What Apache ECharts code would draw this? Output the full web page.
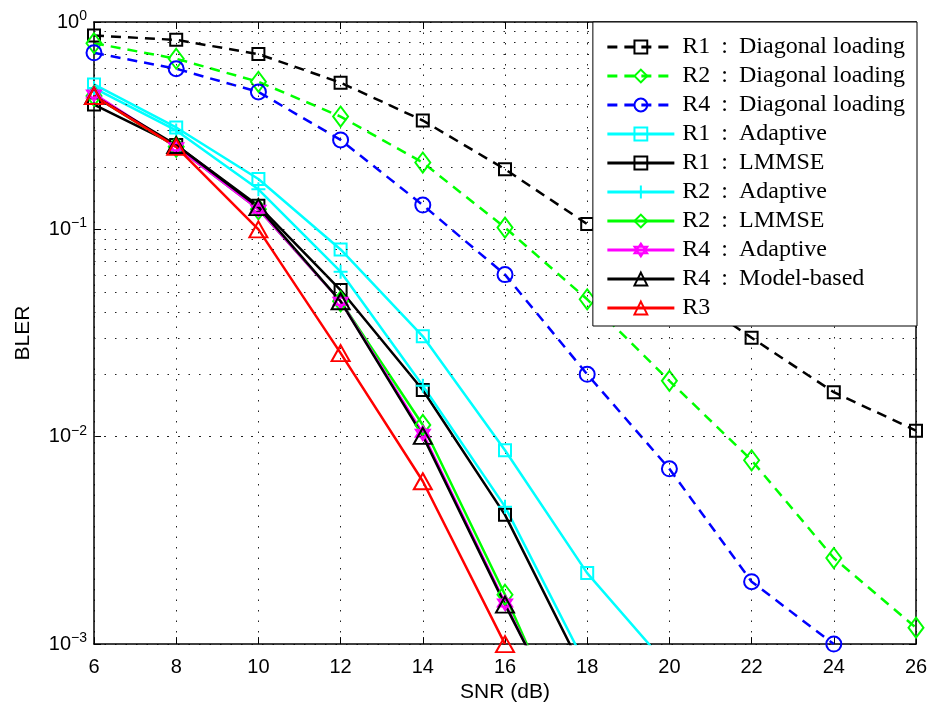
<!DOCTYPE html>
<html>
<head>
<meta charset="utf-8">
<script src="https://cdn.jsdelivr.net/npm/echarts@6/dist/echarts.min.js"></script>
<style>
  html, body { margin: 0; padding: 0; background: #fff; }
  #chart { width: 934px; height: 708px; }
</style>
</head>
<body>
<div id="chart"></div>
<script>
// SNR points (dB)
const snr = [6, 8, 10, 12, 14, 16, 18, 20, 22, 24, 26];

// BLER per receiver / estimator
const r1Diag  = [0.86, 0.82, 0.70, 0.51, 0.335, 0.195, 0.106, 0.056, 0.030, 0.0164, 0.0107];
const r2Diag  = [0.79, 0.665, 0.515, 0.35, 0.21, 0.102, 0.046, 0.0186, 0.0077, 0.0026, 0.0012];
const r4Diag  = [0.71, 0.595, 0.46, 0.27, 0.131, 0.0605, 0.020, 0.0070, 0.0020, 0.0010];
const r1Adapt = [0.50, 0.31, 0.175, 0.080, 0.0305, 0.0086, 0.0022, 0.00077];
const r1Lmmse = [0.40, 0.255, 0.13, 0.051, 0.0168, 0.0042, 0.00068];
const r2Adapt = [0.48, 0.30, 0.156, 0.0625, 0.0176, 0.0046, 0.00077];
const r2Lmmse = [0.44, 0.25, 0.125, 0.045, 0.0114, 0.00173, 0.00022];
const r4Adapt = [0.45, 0.25, 0.125, 0.045, 0.0104, 0.00158, 0.00025];
const r4Model = [0.44, 0.255, 0.128, 0.045, 0.0101, 0.00155, 0.00026];
const r3      = [0.44, 0.25, 0.10, 0.0253, 0.0061, 0.0010];

// Axis ranges and ticks
const xTicks = [6, 8, 10, 12, 14, 16, 18, 20, 22, 24, 26];
const yDecades = [0.001, 0.01, 0.1, 1];
const yMinorGrid = [
  0.002, 0.003, 0.004, 0.005, 0.006, 0.007, 0.008, 0.009,
  0.02, 0.03, 0.04, 0.05, 0.06, 0.07, 0.08, 0.09,
  0.2, 0.3, 0.4, 0.5, 0.6, 0.7, 0.8, 0.9
];

const names = [
  'R1 : Diagonal loading', 'R2 : Diagonal loading', 'R4 : Diagonal loading',
  'R1 : Adaptive', 'R1 : LMMSE', 'R2 : Adaptive', 'R2 : LMMSE',
  'R4 : Adaptive', 'R4 : Model-based', 'R3'
];

const PLUS = 'path://M0,-10L0,10M-10,0L10,0';
const HEXAGRAM = 'path://M0,-10L8.66,5L-8.66,5ZM0,10L8.66,-5L-8.66,-5Z';

function pairs(ys) { return ys.map((y, i) => [snr[i], y]); }

function curve(name, ys, color, symbol, size, dashed) {
  return {
    name: name,
    type: 'line',
    data: pairs(ys),
    symbol: symbol,
    symbolSize: size,
    showAllSymbol: true,
    clip: true,
    z: 3,
    lineStyle: { color: color, width: 2.5, type: dashed ? [10, 7] : 'solid' },
    itemStyle: { color: 'rgba(0,0,0,0)', borderColor: color, borderWidth: 2 },
    emphasis: { disabled: true }
  };
}

// legend entries: receiver, colon with wide spacing, method
function legendLabel(name) {
  const parts = name.split(' : ');
  if (parts.length < 2) return '{r|' + name + '}';
  return '{r|' + parts[0] + '}{c|:}{t|' + parts[1] + '}';
}

const dotted = { color: '#222', width: 1, type: [1.5, 9] };
const serif = 'Liberation Serif';

const chart = echarts.init(document.getElementById('chart'), null, { renderer: 'canvas' });

chart.setOption({
  animation: false,
  backgroundColor: '#fff',
  grid: { left: 94, right: 18, top: 22, bottom: 61, show: false },
  xAxis: [{
    type: 'value', min: 6, max: 26, interval: 2,
    name: 'SNR (dB)', nameLocation: 'middle', nameGap: 34,
    nameTextStyle: { fontFamily: 'Liberation Sans', fontSize: 21, color: '#000' },
    axisLine: { show: true, lineStyle: { color: '#000', width: 1.5 } },
    axisTick: { show: true, inside: true, length: 7, lineStyle: { color: '#000', width: 1 } },
    axisLabel: {
      fontFamily: 'Liberation Sans', fontSize: 20, color: '#000', margin: 13,
      formatter: v => (xTicks.indexOf(v) >= 0 ? String(v) : '')
    },
    splitLine: { show: true, lineStyle: dotted }
  }, {
    type: 'value', min: 6, max: 26, interval: 2, position: 'top',
    axisLine: { show: true, onZero: false, lineStyle: { color: '#000', width: 1.5 } },
    axisTick: { show: true, inside: true, length: 7, lineStyle: { color: '#000', width: 1 } },
    axisLabel: { show: false },
    splitLine: { show: false }
  }],
  yAxis: [{
    type: 'log', logBase: 10, min: 0.001, max: 1, interval: 1,
    name: 'BLER', nameLocation: 'middle', nameGap: 60, nameRotate: 90,
    nameTextStyle: { fontFamily: 'Liberation Sans', fontSize: 21, color: '#000' },
    axisLine: { show: true, lineStyle: { color: '#000', width: 1.5 } },
    axisTick: { show: true, inside: true, length: 7, lineStyle: { color: '#000', width: 1 } },
    axisLabel: {
      margin: 7, color: '#000',
      formatter: function (v) {
        const e = Math.round(Math.log10(v));
        const sup = e === 0 ? '0' : '\u2212' + (-e);
        return '{b|10}{s|' + sup + '}';
      },
      rich: {
        b: { fontFamily: 'Liberation Sans', fontSize: 20, color: '#000' },
        s: { fontFamily: 'Liberation Sans', fontSize: 14, color: '#000', padding: [0, 0, 12, 0] }
      }
    },
    splitLine: { show: true, lineStyle: dotted }
  }, {
    type: 'log', logBase: 10, min: 0.001, max: 1, interval: 1, position: 'right',
    axisLine: { show: true, onZero: false, lineStyle: { color: '#000', width: 1.5 } },
    axisTick: { show: true, inside: true, length: 7, lineStyle: { color: '#000', width: 1 } },
    axisLabel: { show: false },
    splitLine: { show: false }
  }],
  legend: {
    data: names,
    orient: 'vertical',
    right: 17, top: 22,
    padding: [13, 12, 6, 13],
    itemGap: 5,
    itemWidth: 67, itemHeight: 16,
    backgroundColor: '#fff',
    borderColor: '#000', borderWidth: 1,
    borderRadius: 0,
    selectedMode: false,
    formatter: legendLabel,
    textStyle: {
      color: '#000', lineHeight: 22,
      rich: {
        r: { fontFamily: serif, fontSize: 24, color: '#000', lineHeight: 22, padding: [0, 0, 0, 3] },
        t: { fontFamily: serif, fontSize: 24, color: '#000', lineHeight: 22 },
        c: { fontFamily: serif, fontSize: 24, color: '#000', lineHeight: 22, padding: [0, 11, 0, 11] }
      }
    },
    lineStyle: { width: 3 },
    z: 10
  },
  series: [
    {
      name: 'grid-minor', type: 'line', data: [], z: 1, silent: true,
      markLine: {
        silent: true, symbol: 'none', label: { show: false },
        lineStyle: dotted,
        data: yMinorGrid.map(v => ({ yAxis: v }))
      }
    },
    curve(names[0], r1Diag, '#000000', 'rect', 12, true),
    curve(names[1], r2Diag, '#00ff00', 'diamond', [15, 20], true),
    curve(names[2], r4Diag, '#0000ff', 'circle', 15, true),
    curve(names[3], r1Adapt, '#00ffff', 'rect', 12, false),
    curve(names[4], r1Lmmse, '#000000', 'rect', 12, false),
    curve(names[5], r2Adapt, '#00ffff', PLUS, 14, false),
    curve(names[6], r2Lmmse, '#00ff00', 'diamond', [15, 20], false),
    curve(names[7], r4Adapt, '#ff00ff', HEXAGRAM, 14, false),
    curve(names[8], r4Model, '#000000', 'triangle', [18, 16], false),
    curve(names[9], r3, '#ff0000', 'triangle', [18, 16], false)
  ]
});
</script>
</body>
</html>
